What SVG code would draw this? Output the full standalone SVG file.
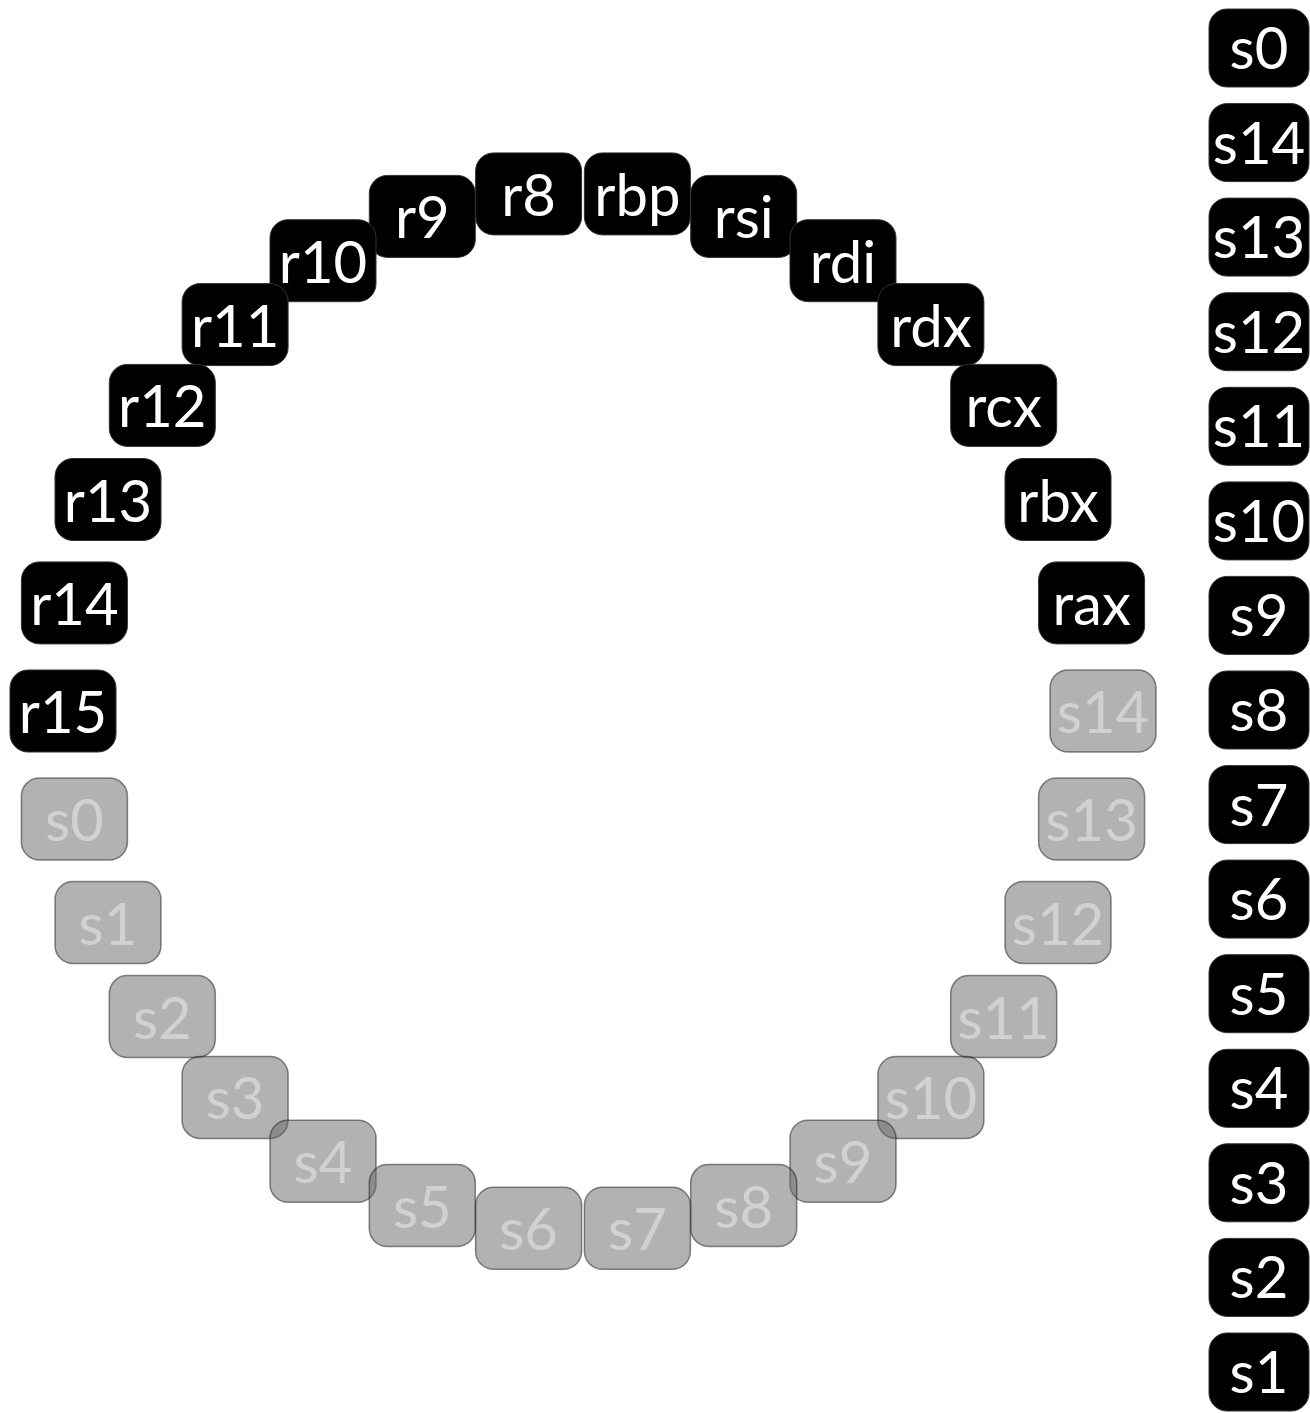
<svg xmlns="http://www.w3.org/2000/svg" width="1310" height="1413" viewBox="0 0 1310 1413">
<style>
.b rect{fill:#000;stroke:#333;stroke-width:1}
.b text{fill:#fff}
.g rect{fill:#666;fill-opacity:0.5;stroke:#1a1a1a;stroke-opacity:0.5;stroke-width:1.5}
.g text{fill:#fff;fill-opacity:0.4}
text{font-family:Lato,"Open Sans",sans-serif;font-size:58px;text-anchor:middle}
</style>
<rect width="1310" height="1413" fill="#fff"/>
<g id="ring">
<g id="rbp" class="b"><rect x="584.4" y="152.9" width="106" height="82" rx="18"/><text x="637.4" y="215.9">rbp</text></g>
<g id="rsi" class="b"><rect x="690.7" y="175.4" width="106" height="82" rx="18"/><text x="743.7" y="238.4">rsi</text></g>
<g id="rdi" class="b"><rect x="790" y="219.7" width="106" height="82" rx="18"/><text x="843" y="282.7">rdi</text></g>
<g id="rdx" class="b"><rect x="877.9" y="283.6" width="106" height="82" rx="18"/><text x="930.9" y="346.6">rdx</text></g>
<g id="rcx" class="b"><rect x="950.7" y="364.4" width="106" height="82" rx="18"/><text x="1003.7" y="427.4">rcx</text></g>
<g id="rbx" class="b"><rect x="1005" y="458.5" width="106" height="82" rx="18"/><text x="1058" y="521.5">rbx</text></g>
<g id="rax" class="b"><rect x="1038.6" y="561.9" width="106" height="82" rx="18"/><text x="1091.6" y="624.9">rax</text></g>
<g id="r8" class="b"><rect x="475.6" y="152.9" width="106" height="82" rx="18"/><text x="528.6" y="215.9">r8</text></g>
<g id="r9" class="b"><rect x="369.3" y="175.4" width="106" height="82" rx="18"/><text x="422.3" y="238.4">r9</text></g>
<g id="r10" class="b"><rect x="270" y="219.7" width="106" height="82" rx="18"/><text x="323" y="282.7">r10</text></g>
<g id="r11" class="b"><rect x="182.1" y="283.6" width="106" height="82" rx="18"/><text x="235.1" y="346.6">r11</text></g>
<g id="r12" class="b"><rect x="109.3" y="364.4" width="106" height="82" rx="18"/><text x="162.3" y="427.4">r12</text></g>
<g id="r13" class="b"><rect x="55" y="458.5" width="106" height="82" rx="18"/><text x="108" y="521.5">r13</text></g>
<g id="r14" class="b"><rect x="21.4" y="561.9" width="106" height="82" rx="18"/><text x="74.4" y="624.9">r14</text></g>
<g id="r15" class="b"><rect x="10" y="670" width="106" height="82" rx="18"/><text x="63" y="733">r15</text></g>
<g id="ring-s14" class="g"><rect x="1050" y="670" width="106" height="82" rx="18"/><text x="1103" y="733">s14</text></g>
<g id="ring-s13" class="g"><rect x="1038.6" y="778.1" width="106" height="82" rx="18"/><text x="1091.6" y="841.1">s13</text></g>
<g id="ring-s12" class="g"><rect x="1005" y="881.5" width="106" height="82" rx="18"/><text x="1058" y="944.5">s12</text></g>
<g id="ring-s11" class="g"><rect x="950.7" y="975.6" width="106" height="82" rx="18"/><text x="1003.7" y="1038.6">s11</text></g>
<g id="ring-s10" class="g"><rect x="877.9" y="1056.4" width="106" height="82" rx="18"/><text x="930.9" y="1119.4">s10</text></g>
<g id="ring-s9" class="g"><rect x="790" y="1120.3" width="106" height="82" rx="18"/><text x="843" y="1183.3">s9</text></g>
<g id="ring-s8" class="g"><rect x="690.7" y="1164.6" width="106" height="82" rx="18"/><text x="743.7" y="1227.6">s8</text></g>
<g id="ring-s7" class="g"><rect x="584.4" y="1187.2" width="106" height="82" rx="18"/><text x="637.4" y="1250.2">s7</text></g>
<g id="ring-s0" class="g"><rect x="21.4" y="778.1" width="106" height="82" rx="18"/><text x="74.4" y="841.1">s0</text></g>
<g id="ring-s1" class="g"><rect x="55" y="881.5" width="106" height="82" rx="18"/><text x="108" y="944.5">s1</text></g>
<g id="ring-s2" class="g"><rect x="109.3" y="975.6" width="106" height="82" rx="18"/><text x="162.3" y="1038.6">s2</text></g>
<g id="ring-s3" class="g"><rect x="182.1" y="1056.4" width="106" height="82" rx="18"/><text x="235.1" y="1119.4">s3</text></g>
<g id="ring-s4" class="g"><rect x="270" y="1120.3" width="106" height="82" rx="18"/><text x="323" y="1183.3">s4</text></g>
<g id="ring-s5" class="g"><rect x="369.3" y="1164.6" width="106" height="82" rx="18"/><text x="422.3" y="1227.6">s5</text></g>
<g id="ring-s6" class="g"><rect x="475.6" y="1187.2" width="106" height="82" rx="18"/><text x="528.6" y="1250.2">s6</text></g>
</g>
<g id="stack">
<g id="col-s0" class="b"><rect x="1209" y="9" width="100" height="78" rx="18"/><text x="1259" y="69">s0</text></g>
<g id="col-s14" class="b"><rect x="1209" y="103.6" width="100" height="78" rx="18"/><text x="1259" y="163.6">s14</text></g>
<g id="col-s13" class="b"><rect x="1209" y="198.1" width="100" height="78" rx="18"/><text x="1259" y="258.1">s13</text></g>
<g id="col-s12" class="b"><rect x="1209" y="292.7" width="100" height="78" rx="18"/><text x="1259" y="352.7">s12</text></g>
<g id="col-s11" class="b"><rect x="1209" y="387.3" width="100" height="78" rx="18"/><text x="1259" y="447.3">s11</text></g>
<g id="col-s10" class="b"><rect x="1209" y="481.9" width="100" height="78" rx="18"/><text x="1259" y="541.9">s10</text></g>
<g id="col-s9" class="b"><rect x="1209" y="576.4" width="100" height="78" rx="18"/><text x="1259" y="636.4">s9</text></g>
<g id="col-s8" class="b"><rect x="1209" y="671" width="100" height="78" rx="18"/><text x="1259" y="731">s8</text></g>
<g id="col-s7" class="b"><rect x="1209" y="765.6" width="100" height="78" rx="18"/><text x="1259" y="825.6">s7</text></g>
<g id="col-s6" class="b"><rect x="1209" y="860.1" width="100" height="78" rx="18"/><text x="1259" y="920.1">s6</text></g>
<g id="col-s5" class="b"><rect x="1209" y="954.7" width="100" height="78" rx="18"/><text x="1259" y="1014.7">s5</text></g>
<g id="col-s4" class="b"><rect x="1209" y="1049.3" width="100" height="78" rx="18"/><text x="1259" y="1109.3">s4</text></g>
<g id="col-s3" class="b"><rect x="1209" y="1143.8" width="100" height="78" rx="18"/><text x="1259" y="1203.8">s3</text></g>
<g id="col-s2" class="b"><rect x="1209" y="1238.4" width="100" height="78" rx="18"/><text x="1259" y="1298.4">s2</text></g>
<g id="col-s1" class="b"><rect x="1209" y="1333" width="100" height="78" rx="18"/><text x="1259" y="1393">s1</text></g>
</g>
</svg>
